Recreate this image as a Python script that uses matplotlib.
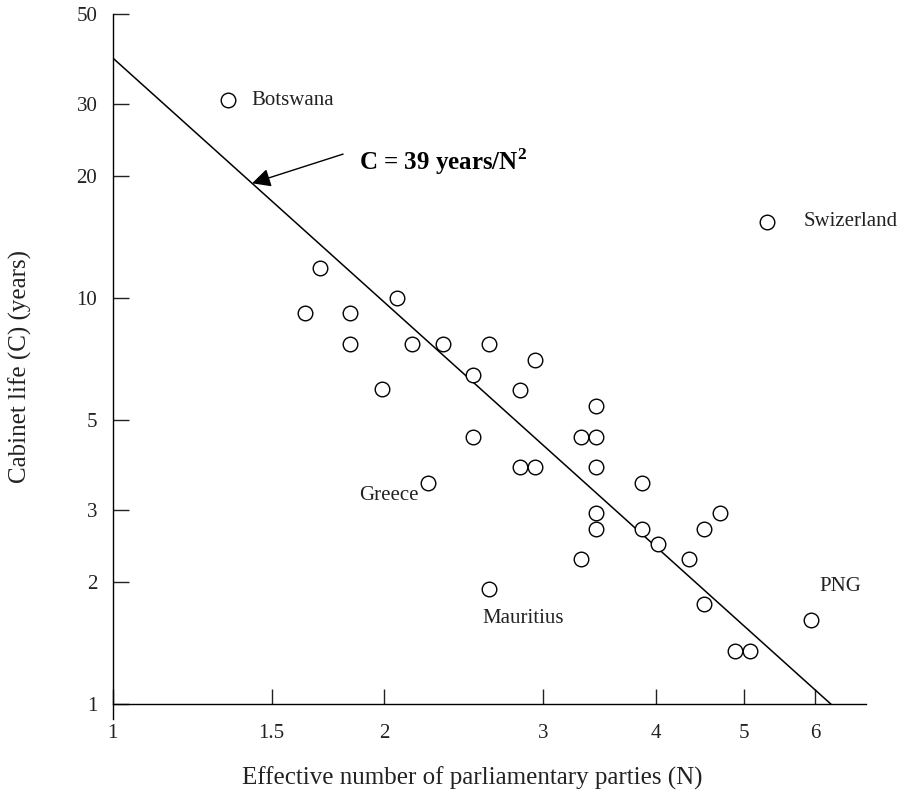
import numpy as np
import matplotlib
matplotlib.use('Agg')
import matplotlib.pyplot as plt
from matplotlib.ticker import FixedLocator, FixedFormatter, NullLocator

plt.rcParams['font.family'] = ['Liberation Serif', 'DejaVu Serif']
plt.rcParams['mathtext.fontset'] = 'custom'
plt.rcParams['mathtext.rm'] = 'Liberation Serif'
plt.rcParams['mathtext.bf'] = 'Liberation Serif:bold'

# effective number of parties (N) and cabinet life (C, years)
N = [1.342, 5.30, 1.697, 2.066, 1.634, 1.832, 1.832, 2.146, 2.323, 2.612,
     2.938, 2.508, 1.988, 2.827, 3.432, 2.508, 3.303, 3.432, 2.827, 2.938,
     3.432, 2.236, 3.859, 3.432, 4.711, 3.432, 3.859, 4.522, 4.020, 3.303,
     4.351, 2.612, 4.522, 5.939, 4.893, 5.084]
C = [30.7, 15.4, 11.88, 9.97, 9.16, 9.16, 7.69, 7.69, 7.69, 7.69,
     7.02, 6.45, 5.96, 5.93, 5.41, 4.54, 4.54, 4.54, 3.84, 3.84,
     3.84, 3.50, 3.50, 2.96, 2.96, 2.70, 2.70, 2.70, 2.48, 2.28,
     2.28, 1.915, 1.759, 1.608, 1.349, 1.349]

# labelled countries: name, N, C
countries = ['Botswana', 'Swizerland', 'Greece', 'Mauritius', 'PNG']
country_N = [1.342, 5.30, 2.236, 2.612, 5.939]
country_C = [30.7, 15.4, 3.50, 1.915, 1.608]

k_fit = 39.0  # C = 39 years / N^2

xticks = [1, 1.5, 2, 3, 4, 5, 6]
yticks = [1, 2, 3, 5, 10, 20, 30, 50]

fig = plt.figure(figsize=(9.09, 8), dpi=100)
ax = fig.add_axes([0.1239, 0.10125, 0.8288, 0.88125])

nn = np.linspace(1, np.sqrt(k_fit), 200)
ax.plot(nn, k_fit / nn**2, color='black', lw=1.1)
ax.plot(N, C, ls='none', marker='o', ms=10.5, mfc='white', mec='black', mew=1.0)

ax.set_xscale('log')
ax.set_yscale('log')
ax.set_xlim(1, 6.83)
ax.set_ylim(0.919, 50)

for s in ['top', 'right']:
    ax.spines[s].set_visible(False)
ax.spines['bottom'].set_position(('data', 1))
ax.spines['left'].set_linewidth(1.0)
ax.spines['bottom'].set_linewidth(1.0)

ax.xaxis.set_major_locator(FixedLocator(xticks))
ax.xaxis.set_major_formatter(FixedFormatter([str(t) for t in xticks]))
ax.xaxis.set_minor_locator(NullLocator())
ax.yaxis.set_major_locator(FixedLocator(yticks))
ax.yaxis.set_major_formatter(FixedFormatter([str(t) for t in yticks]))
ax.yaxis.set_minor_locator(NullLocator())
ax.tick_params(axis='x', direction='in', length=10.8, width=1.0, pad=14, labelsize=15, colors='#222222')
ax.tick_params(axis='y', direction='in', length=11.5, width=1.0, pad=11, labelsize=15, colors='#222222')

ax.set_xlabel('Effective number of parliamentary parties (N)', fontsize=18, va='center', color='#222222')
ax.xaxis.set_label_coords(0.477, -0.0837)
ax.set_ylabel('Cabinet life (C) (years)', fontsize=18, va='center', color='#222222')
ax.yaxis.set_label_coords(-0.123, 0.5)

# country labels (offsets in points from the marker)
offsets = [(16.5, 0, 'left', 'center'), (27, 0, 'left', 'center'),
           (-7, -9, 'right', 'center'), (-5, -21, 'left', 'center'),
           (6, 24, 'left', 'center')]
for name, xn, yc, (dx, dy, ha, va) in zip(countries, country_N, country_C, offsets):
    ax.annotate(name, (xn, yc), xytext=(dx, dy), textcoords='offset points',
                ha=ha, va=va, fontsize=15, color='#222222')

# fit equation and arrow pointing to the line
ax.text(1.875, 21.6, r'C = 39 years/N$^\mathbf{2}$', ha='left', va='center',
        fontsize=18, fontweight='bold', color='black')
ax.annotate('', xy=(1.427, k_fit / 1.427**2), xytext=(1.80, 22.6),
            arrowprops=dict(arrowstyle='-|>', color='black', lw=1.0,
                            mutation_scale=28, shrinkA=0, shrinkB=0))

fig.savefig('out.png', dpi=100)
